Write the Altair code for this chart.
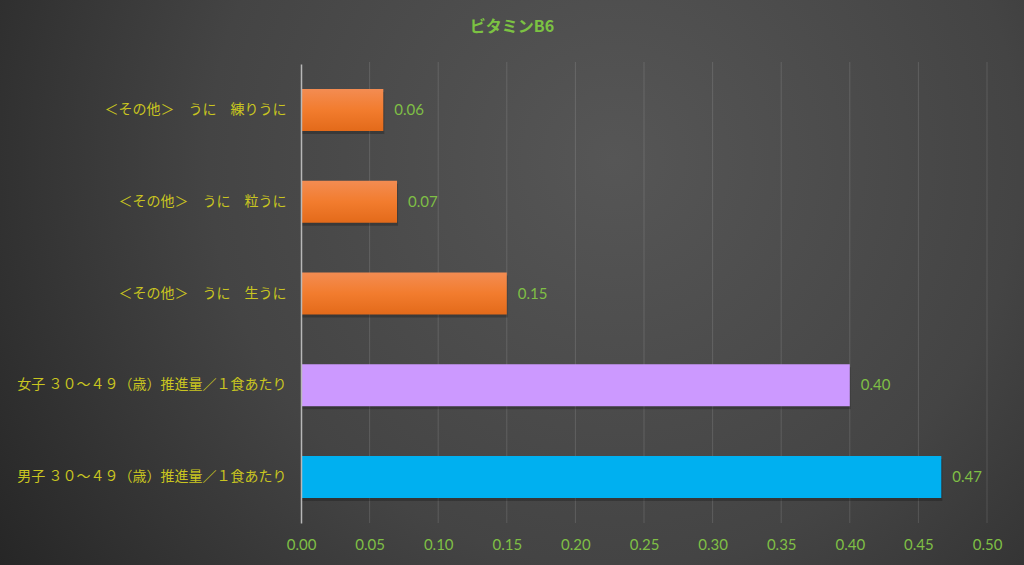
import altair as alt
import pandas as pd

# ---- data ----
categories = [
    "＜その他＞　うに　練りうに",
    "＜その他＞　うに　粒うに",
    "＜その他＞　うに　生うに",
    "女子 ３０～４９（歳）推進量／１食あたり",
    "男子 ３０～４９（歳）推進量／１食あたり",
]
values = [0.06, 0.07, 0.15, 0.40, 0.4667]
kinds = ["うに", "うに", "うに", "女子", "男子"]
x_ticks = [0.0, 0.05, 0.10, 0.15, 0.20, 0.25, 0.30, 0.35, 0.40, 0.45, 0.50]
title_text = "ビタミンB6"

df = pd.DataFrame({"item": categories, "value": values, "kind": kinds})
grid_df = pd.DataFrame({"value": x_ticks[1:]})
one = pd.DataFrame({"a": [0]})

W, H = 686, 459
L, T = 301, 64
FULL_W, FULL_H = 1024, 565

JP = "Noto Sans CJK JP"
NUM = "Lato"
GREEN = "#7fbf45"
YELLOW = "#c9c520"

x_scale = alt.Scale(domain=[0, 0.5], nice=False)
x_axis = alt.Axis(title=None, values=x_ticks, format=".2f", labelColor=GREEN,
                  labelFont=NUM, labelFontSize=15, ticks=False, domain=False,
                  grid=False, labelPadding=14, labelFlush=False,
                  labelOverlap=False, zindex=1)


def xdef():
    return alt.X("value:Q", scale=x_scale, axis=x_axis)


y_scale = alt.Scale(domain=categories, paddingInner=0.542, paddingOuter=0.272)
ydef = alt.Y("item:N", sort=categories, scale=y_scale,
             axis=alt.Axis(title=None, labelColor=YELLOW, labelFont=JP,
                           labelFontSize=14, labelPadding=15, ticks=False,
                           domainColor="#b8b8b8", domainWidth=1.5, grid=False,
                           labelLimit=400, zindex=1))

bg_gradient = {
    "gradient": "radial",
    "x1": 0.6, "y1": 0.38, "r1": 0,
    "x2": 0.6, "y2": 0.38, "r2": 0.72,
    "stops": [
        {"offset": 0, "color": "#565656"},
        {"offset": 0.55, "color": "#444444"},
        {"offset": 1, "color": "#262626"},
    ],
}

orange_gradient = {
    "gradient": "linear",
    "x1": 0, "y1": 0, "x2": 0, "y2": 1,
    "stops": [
        {"offset": 0, "color": "#f38c52"},
        {"offset": 0.5, "color": "#f27c2e"},
        {"offset": 1, "color": "#e36a1a"},
    ],
}

background = alt.Chart(one).mark_rect(fill=bg_gradient).encode(
    x=alt.value(-L), x2=alt.value(FULL_W - L),
    y=alt.value(-T), y2=alt.value(FULL_H - T),
)

gridlines = alt.Chart(grid_df).mark_rule(color="#ffffff", strokeOpacity=0.13,
                                         strokeWidth=1).encode(
    x=xdef(), y=alt.value(-2), y2=alt.value(H)
)

shadow = alt.Chart(df).mark_bar(color="#000000", opacity=0.22, xOffset=1,
                                yOffset=3).encode(x=xdef(), y=ydef)

orange_bars = alt.Chart(df).mark_bar(fill=orange_gradient).encode(
    x=xdef(), y=ydef
).transform_filter(alt.datum.kind == "うに")

other_bars = alt.Chart(df).mark_bar().encode(
    x=xdef(), y=ydef,
    color=alt.Color("kind:N", scale=alt.Scale(domain=["女子", "男子"],
                                              range=["#cc99ff", "#00b0f0"]),
                    legend=None),
).transform_filter(alt.datum.kind != "うに")

value_labels = alt.Chart(df).mark_text(align="left", baseline="middle", dx=11,
                                       font=NUM, fontSize=15, color=GREEN).encode(
    x=xdef(), y=ydef, text=alt.Text("value:Q", format=".2f")
)

title = alt.Chart(one).mark_text(text=title_text, font=JP, fontSize=16,
                                 fontWeight="bold", color="#7cc242",
                                 align="center", baseline="middle").encode(
    x=alt.value(512 - L), y=alt.value(27 - T)
)

chart = alt.layer(
    background, gridlines, shadow, orange_bars, other_bars, value_labels, title
).properties(
    width=W, height=H,
    autosize=alt.AutoSizeParams(type="none"),
    padding={"left": L, "top": T, "right": FULL_W - L - W, "bottom": FULL_H - T - H},
    background="#3a3a3a",
).configure_view(stroke=None)

chart.save("out.html", embed_options={"renderer": "svg", "actions": False})
